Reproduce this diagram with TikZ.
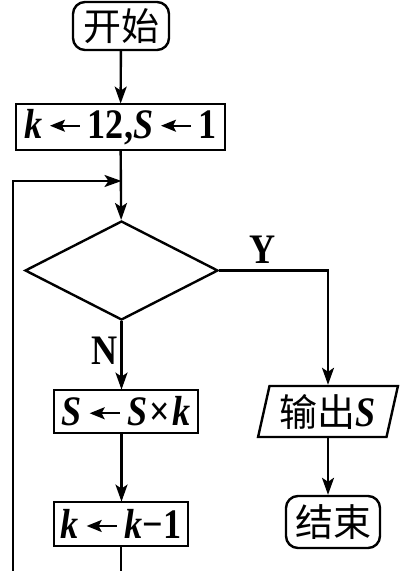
\documentclass[tikz,border=0pt]{standalone}
\usepackage{fontspec}
\setmainfont{Liberation Serif}[FakeStretch=0.86]
\newfontfamily\cjk{Noto Sans CJK SC}
\usetikzlibrary{shapes.geometric,arrows.meta}

\newcommand{\va}[1]{\textbf{\textit{#1}}}
\newcommand{\asg}{\,\tikz[baseline=-0.3em]\draw[line width=0.9pt,-{Stealth[length=7.5pt,width=6pt,inset=1.5pt]}] (15pt,0pt) -- (0pt,0pt);\,}

\begin{document}
\begin{tikzpicture}[x=0.5pt,y=-0.5pt,line width=1.2pt,
	every node/.style={font=\fontsize{21}{24}\selectfont\bfseries},
	term/.style={shape=rectangle,rounded corners=6pt,draw=black,inner sep=0pt,minimum width=48pt,minimum height=24pt,font=\fontsize{19}{20}\selectfont\cjk},
	proc/.style={shape=rectangle,draw=black,inner sep=0pt,minimum height=23pt},
	test/.style={shape=diamond,draw=black,inner sep=0pt,minimum width=96.5pt,minimum height=49.5pt},
	io/.style={shape=trapezium,trapezium left angle=75,trapezium right angle=105,trapezium stretches=true,draw=black,inner sep=0pt,minimum width=70pt,minimum height=25.5pt},
	flow/.style={-{Stealth[length=8.5pt,width=6pt,inset=2pt]}}]
	
	\useasboundingbox (0,0) rectangle (407,571);
	\clip (0,0) rectangle (407,571);
	
	\node[term] (start) at (121,26) {开始};
	\node[proc,minimum width=104.5pt] (init) at (120.5,127) {\va{k}\asg12,\va{S}\asg1};
	\node[test] (cond) at (121.5,270.5) {};
	\node[proc,minimum width=72pt,minimum height=21.5pt] (mul) at (126,411.5) {\va{S}\asg\va{S}\kern1pt×\kern1pt\va{k}};
	\node[io] (out) at (328,411.5) {{\cjk\mdseries\fontsize{19}{20}\selectfont 输出}\va{S}};
	\node[proc,minimum width=67pt,minimum height=22pt] (dec) at (121,524) {\va{k}\asg\va{k}−1};
	\node[term,minimum width=47pt,minimum height=26pt] (stop) at (333,522) {结束};
	\node (yes) at (263,250) {Y};
	\node (no) at (105,351) {N};
	\coordinate (join) at (121.5,181);
	\coordinate (back) at (13,600);
	
	\draw[flow] (start) -- (init);
	\draw[flow] (init) -- (cond);
	\draw[flow] (cond.south) -- (cond.south |- mul.north);
	\draw[flow] (cond.east) -| (out.north);
	\draw[flow] (cond.south |- mul.south) -- (cond.south |- dec.north);
	\draw[flow] (out.south) -- (out.south |- stop.north);
	\draw[flow] (dec.south) -- (dec.south |- back) -- (back) |- (join);
\end{tikzpicture}
\end{document}
